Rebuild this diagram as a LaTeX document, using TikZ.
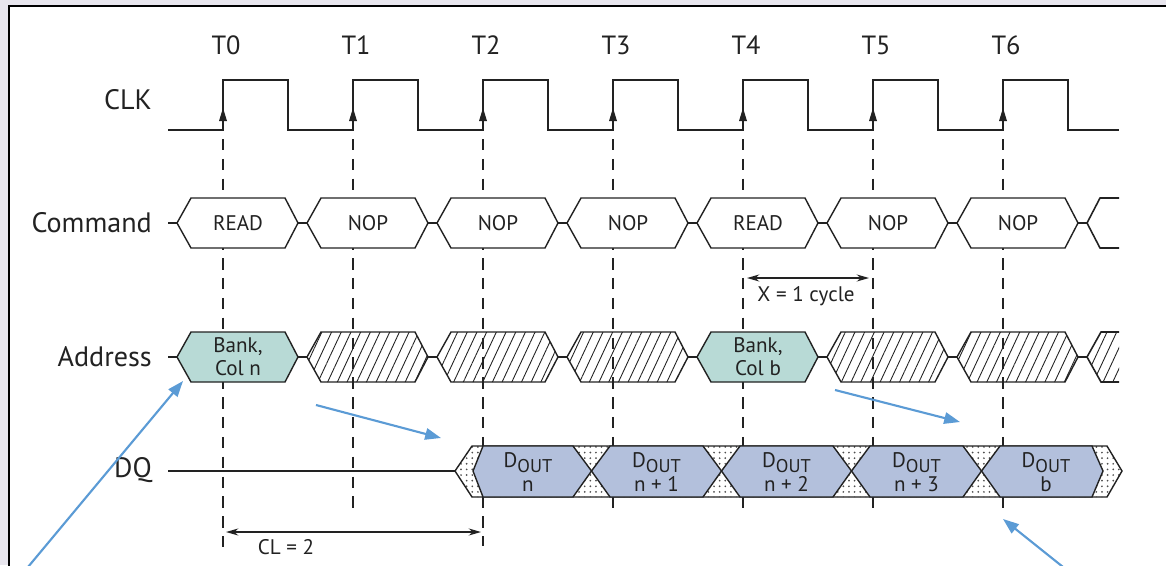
\documentclass[tikz,border=0pt]{standalone}
\usepackage{fontspec}
\setmainfont{PT Sans}
\usetikzlibrary{arrows.meta,patterns.meta}

\definecolor{pagebg}{HTML}{E8E6EE}
\definecolor{addrcol}{HTML}{B8DAD6}
\definecolor{doutcol}{HTML}{B3C0DC}
\definecolor{notecol}{HTML}{5B9BD5}
\definecolor{inkcol}{HTML}{222222}

\tikzset{
  wave/.style={draw=inkcol, line width=0.9pt},
  tickline/.style={inkcol, line width=0.8pt, dash pattern=on 6.5pt off 4.8pt},
  busbox/.style={draw=inkcol, line width=0.8pt, fill=white},
  hatched/.style={draw=inkcol, line width=0.8pt, pattern={Lines[angle=65,distance=5pt,line width=0.5pt]}, pattern color=inkcol},
  dotbus/.style={draw=inkcol, line width=0.8pt, pattern={Dots[radius=0.55pt,distance=3.2pt]}, pattern color=inkcol!80},
  rowlabel/.style={anchor=east, font=\fontsize{16}{18}\selectfont, text=inkcol},
  tlabel/.style={font=\fontsize{15}{17}\selectfont, text=inkcol},
  celltext/.style={font=\fontsize{12}{13}\selectfont, align=center, text=inkcol, inner sep=0pt},
  dimline/.style={inkcol, line width=0.8pt, {Stealth[length=7pt,width=4pt]}-{Stealth[length=7pt,width=4pt]}},
  note/.style={notecol, line width=1.2pt, -{Triangle[length=9pt,width=6.5pt]}},
}

\begin{document}
\begin{tikzpicture}[x=0.02cm,y=-0.02cm]
  \useasboundingbox (0,0) rectangle (1166,565);
  \fill[pagebg] (0,0) rectangle (1166,565);
  \draw[line width=1.5pt, fill=white] (9,6) rectangle (1180,580);

  % row names
  \node[rowlabel] (clk) at (158,100) {CLK};
  \node[rowlabel] (command) at (158,223) {Command};
  \node[rowlabel] (address) at (158,357) {Address};
  \node[rowlabel] (dq) at (158,470) {DQ};

  % edges
  \foreach \k/\bot in {0/552,1/512,2/546,3/512,4/512,5/512,6/512}{
    \pgfmathsetmacro\e{223+130*\k}
    \node[tlabel] (t\k) at ({\e+3},45) {T\k};
    \draw[tickline] (\e,139) -- (\e,\bot);
    \fill[inkcol] (\e,108) -- ++(-4,13) -- ++(8,0) -- cycle;
  }
  \draw[wave] (168,130)
    \foreach \k in {0,...,6}{ -- ({223+130*\k},130) -- ({223+130*\k},80)
      -- ({288+130*\k},80) -- ({288+130*\k},130)} -- (1119,130);

  % command bus
  \draw[wave] (168,223) -- (177,223);
  \foreach \k/\txt in {0/READ,1/NOP,2/NOP,3/NOP,4/READ,5/NOP,6/NOP}{
    \pgfmathsetmacro\e{223+130*\k}
    \draw[busbox, shift={(\e,223)}] (-46,0) -- (-32,-25) -- (62,-25) -- (75,0) -- (62,25) -- (-32,25) -- cycle;
    \draw[wave, shift={(\e,223)}] (75,0) -- (84,0);
    \node[celltext] (cmd\k) at ({\e+15},223) {\txt};
  }
  \draw[wave] (1119,198) -- (1100,198) -- (1087,223) -- (1100,248) -- (1119,248);

  % address bus
  \draw[wave] (168,357) -- (177,357);
  \foreach \k in {1,2,3,5,6}{
    \pgfmathsetmacro\e{223+130*\k}
    \draw[hatched, shift={(\e,357)}] (-46,0) -- (-32,-25) -- (62,-25) -- (75,0) -- (62,25) -- (-32,25) -- cycle;
  }
  \foreach \k/\txt in {0/n,4/b}{
    \pgfmathsetmacro\e{223+130*\k}
    \draw[busbox, fill=addrcol, shift={(\e,357)}] (-46,0) -- (-32,-25) -- (62,-25) -- (75,0) -- (62,25) -- (-32,25) -- cycle;
    \node[celltext] (addr\k) at ({\e+15},357) {Bank,\\Col \txt};
  }
  \foreach \k in {0,...,6}
    \draw[wave] ({298+130*\k},357) -- ({307+130*\k},357);
  \fill[pattern={Lines[angle=65,distance=5pt,line width=0.5pt]}, pattern color=inkcol]
    (1119,332) -- (1101,332) -- (1087,357) -- (1101,382) -- (1119,382) -- cycle;
  \draw[wave] (1119,332) -- (1101,332) -- (1087,357) -- (1101,382) -- (1119,382);

  % data bus
  \draw[wave] (168,471) -- (455,471);
  \draw[dotbus] (455,471) -- (472,446) -- (1107,446) -- (1122,471) -- (1107,497) -- (472,497) -- cycle;
  \foreach \j/\txt/\lt/\lc/\rc/\rt in {0/n/473/483/573/591.5, 1/n + 1/591.5/610/703/721.5,
      2/n + 2/721.5/740/833/851.5, 3/n + 3/851.5/870/963/981.5, 4/b/981.5/1000/1092/1103}{
    \draw[busbox, fill=doutcol] (\lt,471) -- (\lc,446) -- (\rc,446) -- (\rt,471) -- (\rc,497) -- (\lc,497) -- cycle;
    \node[celltext] (dout\j) at ({(\lc+\rc)/2},472)
      {D\raisebox{-0.5ex}{\fontsize{10.5}{11}\selectfont OUT}\\[1pt]\txt};
  }

  % timing marks
  \coordinate (cla) at (226,532);
  \coordinate (clb) at (481,532);
  \draw[dimline] (cla) -- (clb);
  \node[celltext] (cl) at (286,547) {CL = 2};
  \coordinate (xa) at (747,278);
  \coordinate (xb) at (869,278);
  \draw[dimline] (xa) -- (xb);
  \node[celltext] (xcyc) at (806,296) {X = 1 cycle};

  % notes
  \coordinate (n1a) at (28,567);
  \coordinate (n1b) at (183,381);
  \coordinate (n2a) at (316,405);
  \coordinate (n2b) at (441,438);
  \coordinate (n3a) at (835,390);
  \coordinate (n3b) at (960,422);
  \coordinate (n4a) at (1063,567);
  \coordinate (n4b) at (1003,519);
  \draw[note] (n1a) -- (n1b);
  \draw[note] (n2a) -- (n2b);
  \draw[note] (n3a) -- (n3b);
  \draw[note] (n4a) -- (n4b);
\end{tikzpicture}
\end{document}
